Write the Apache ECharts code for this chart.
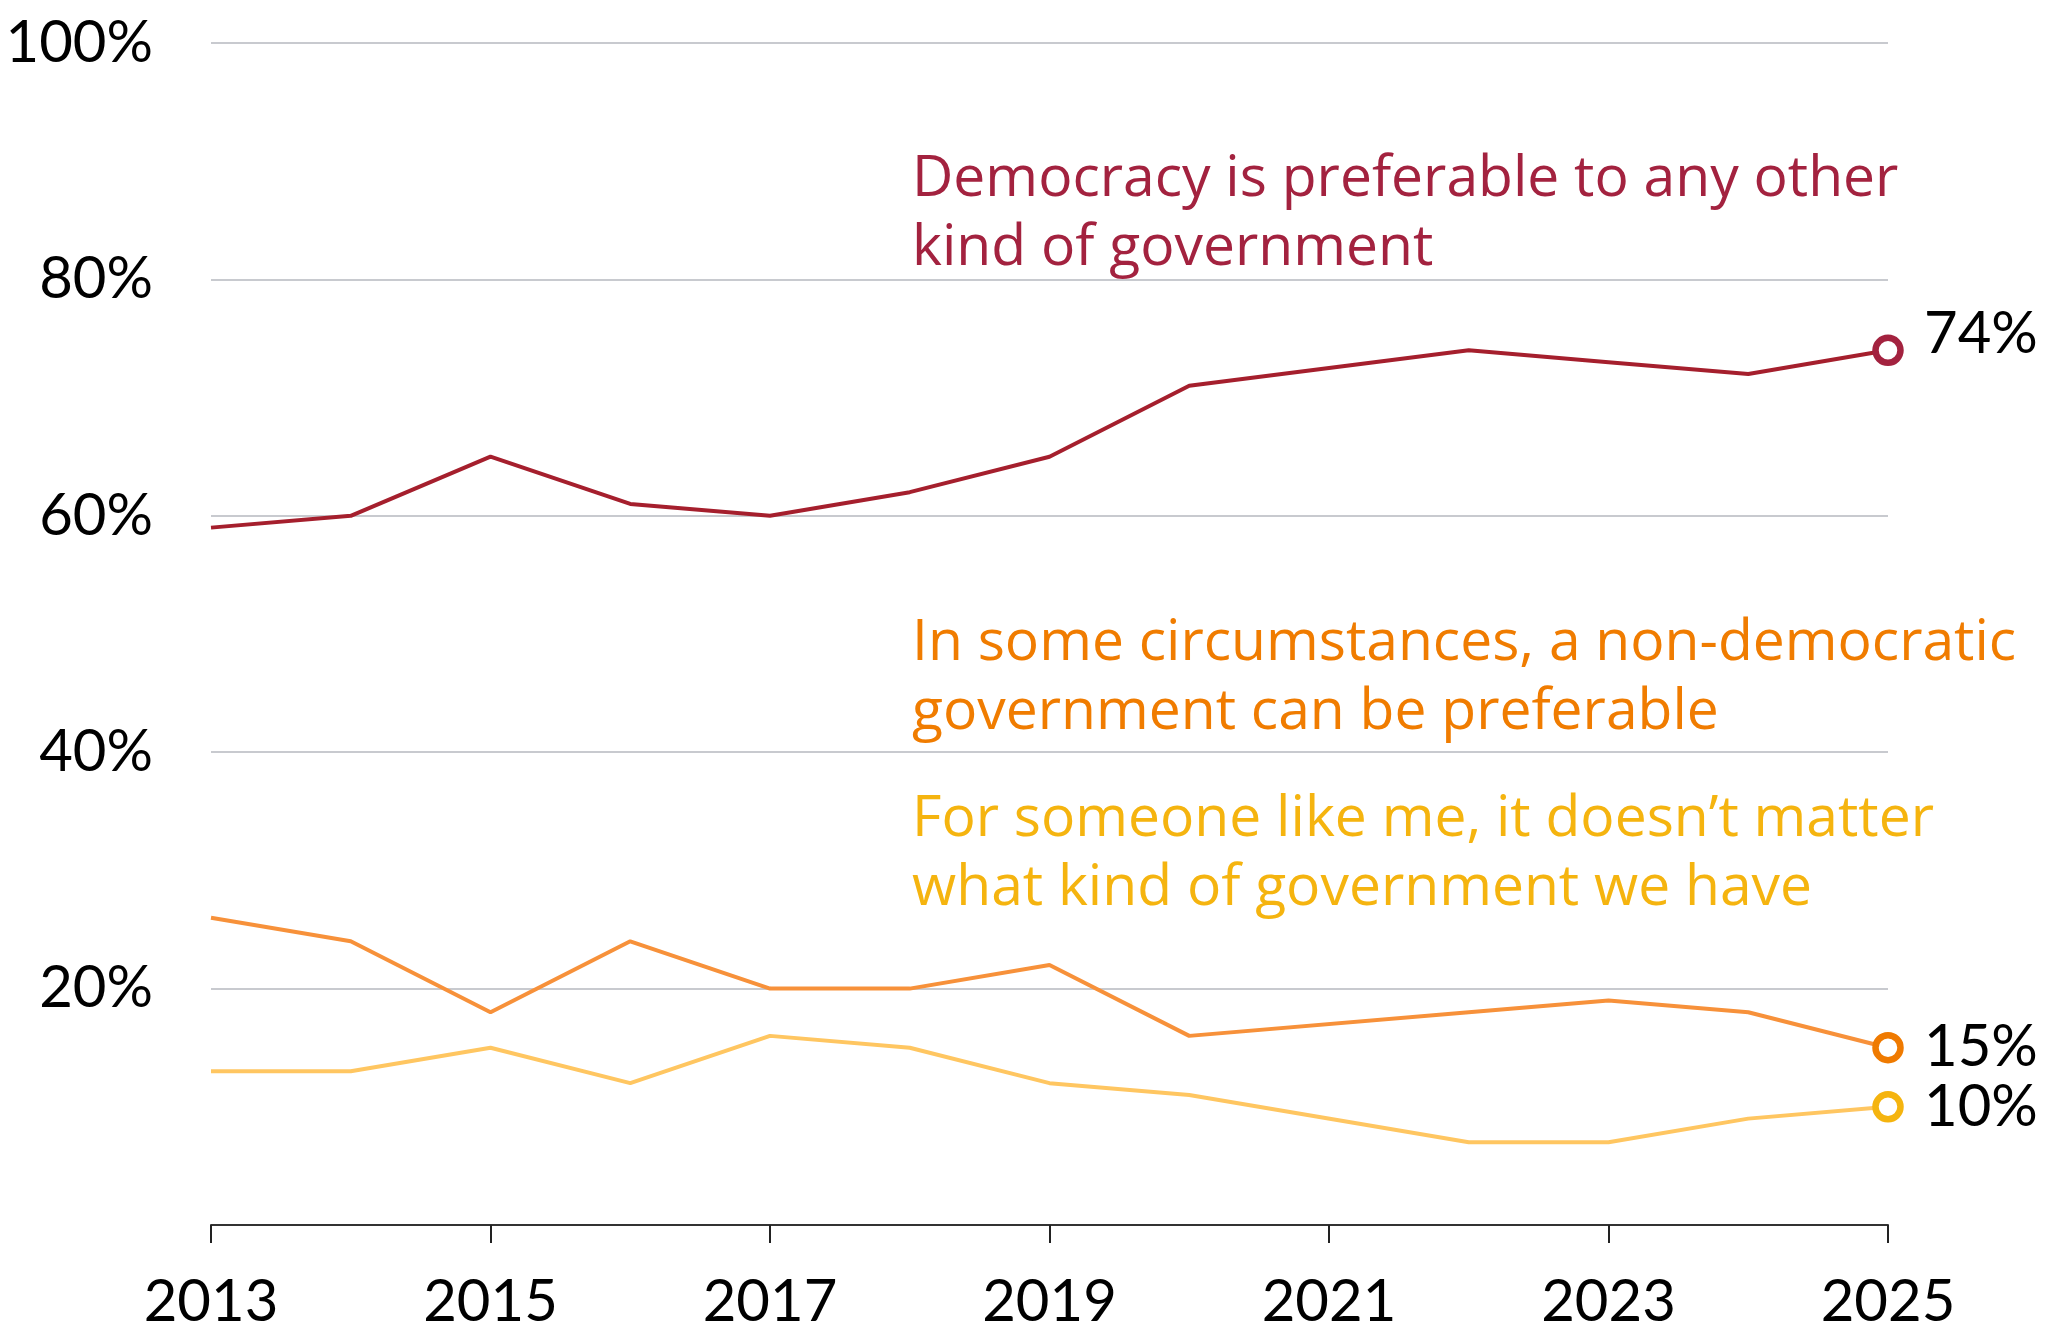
<!DOCTYPE html>
<html>
<head>
<meta charset="utf-8">
<script src="https://cdn.jsdelivr.net/npm/echarts@6/dist/echarts.min.js"></script>
<style>
  html, body { margin: 0; padding: 0; background: #fff; }
  #chart { width: 2048px; height: 1340px; }
</style>
</head>
<body>
<div id="chart"></div>
<script>
const years = ['2013','2014','2015','2016','2017','2018','2019','2020','2021','2022','2023','2024','2025'];
const democracyPreferable = [59, 60, 65, 61, 60, 62, 65, 71, null, 74, 73, 72, 74];
const nonDemocraticPreferable = [26, 24, 18, 24, 20, 20, 22, 16, null, 18, 19, 18, 15];
const doesntMatter = [13, 13, 15, 12, 16, 15, 12, 11, null, 7, 7, 9, 10];
const yTicks = [0, 20, 40, 60, 80, 100];

const labelDem = 'Democracy is preferable to any other\nkind of government';
const labelNonDem = 'In some circumstances, a non-democratic\ngovernment can be preferable';
const labelMatter = 'For someone like me, it doesn\u2019t matter\nwhat kind of government we have';

const FONT = 'Lato, "Noto Sans", sans-serif';
const NOTE_FONT = '"Open Sans", "Noto Sans", sans-serif';
const chart = echarts.init(document.getElementById('chart'));

function lineSeries(name, data, lineColor, markerColor, labelOffsetY) {
  const last = data.length - 1;
  return {
    name: name,
    type: 'line',
    data: data,
    connectNulls: true,
    symbol: 'circle',
    symbolSize: function (v, p) { return p.dataIndex === last ? 25 : 0; },
    showSymbol: true,
    itemStyle: { color: '#fff', borderColor: markerColor, borderWidth: 6.5 },
    lineStyle: { color: lineColor, width: 4 },
    emphasis: { disabled: true },
    z: 3,
    endLabel: {
      show: true,
      formatter: '{c}%',
      color: '#000',
      fontFamily: FONT,
      fontSize: 58,
      distance: 36,
      offset: [0, labelOffsetY]
    }
  };
}

chart.setOption({
  animation: false,
  backgroundColor: '#fff',
  grid: { left: 211, right: 160, top: 43, bottom: 115, containLabel: false },
  xAxis: {
    type: 'category',
    data: years,
    boundaryGap: false,
    axisLine: { lineStyle: { color: '#333', width: 2 } },
    axisTick: { show: true, interval: 1, length: 18, lineStyle: { color: '#222', width: 2 } },
    axisLabel: { interval: 1, color: '#000', fontFamily: FONT, fontSize: 58, margin: 48 },
    splitLine: { show: false }
  },
  yAxis: {
    type: 'value',
    min: 0, max: 100, interval: 20,
    axisLine: { show: false },
    axisTick: { show: false },
    axisLabel: {
      color: '#000', fontFamily: FONT, fontSize: 58, margin: 58,
      formatter: function (v) { return yTicks.indexOf(v) > 0 ? v + '%' : ''; }
    },
    splitLine: { lineStyle: { color: '#c8cacf', width: 2 } }
  },
  series: [
    lineSeries('Democracy is preferable', democracyPreferable, '#a51f2d', '#a3223f', -16),
    lineSeries('Non-democratic preferable', nonDemocraticPreferable, '#f7913a', '#ef7a00', 0),
    lineSeries("Doesn't matter", doesntMatter, '#ffc661', '#f5b40f', 0)
  ],
  graphic: [
    { type: 'text', left: 912, top: 145, style: { text: labelDem, fill: '#a3223f', font: '57px ' + NOTE_FONT, lineHeight: 69 } },
    { type: 'text', left: 912, top: 609, style: { text: labelNonDem, fill: '#f07c00', font: '57px ' + NOTE_FONT, lineHeight: 69 } },
    { type: 'text', left: 912, top: 785, style: { text: labelMatter, fill: '#f5b40f', font: '57px ' + NOTE_FONT, lineHeight: 69 } }
  ]
});
</script>
</body>
</html>
